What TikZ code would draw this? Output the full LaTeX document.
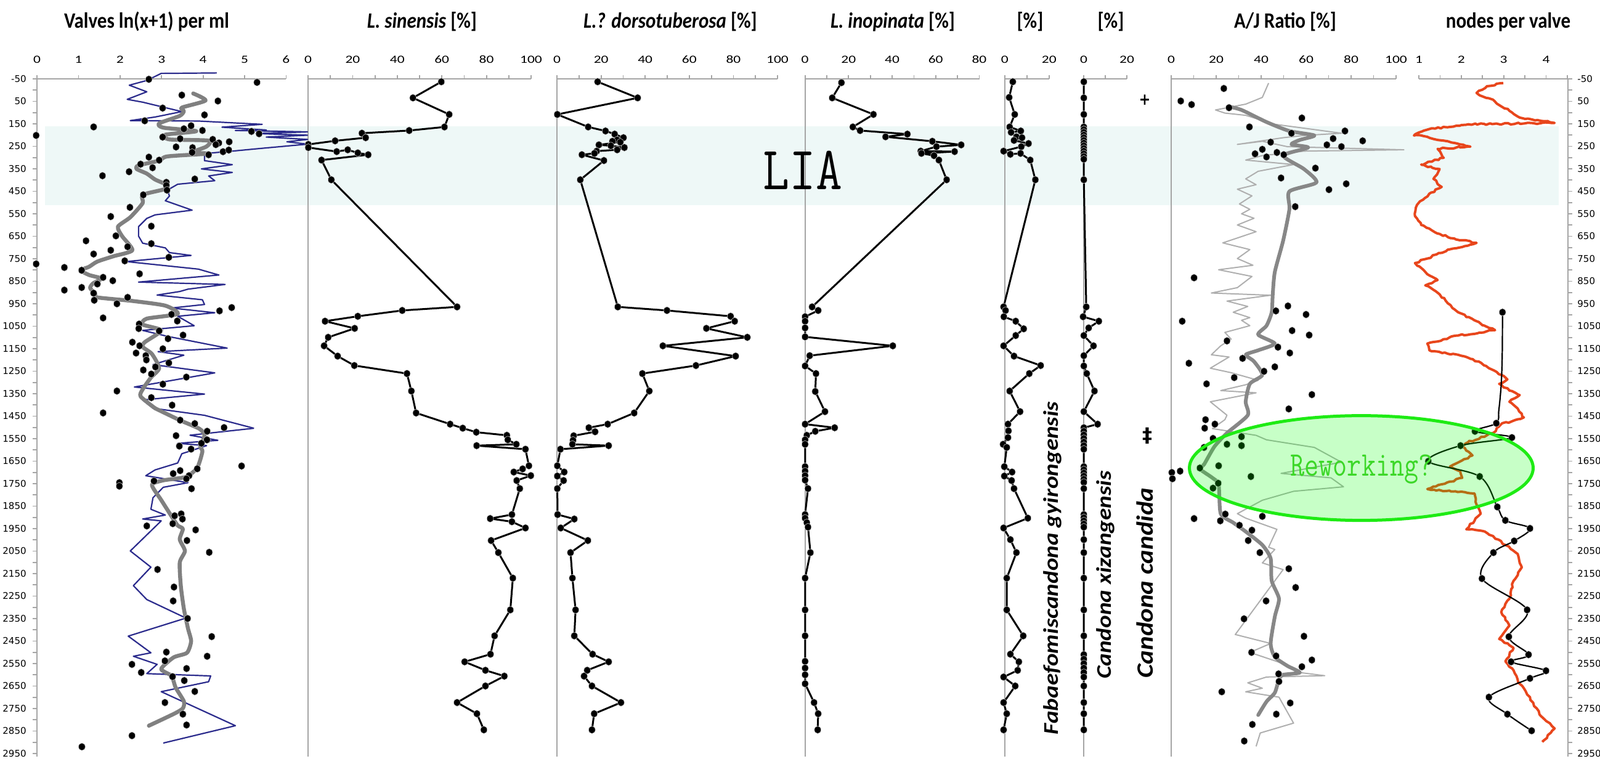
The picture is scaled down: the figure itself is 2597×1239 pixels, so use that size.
\documentclass[tikz,border=0pt]{standalone}
\usepackage{fontspec}
\setmainfont{Carlito}
\newfontfamily\depthfont{DejaVu Sans}
\newfontfamily\symf{DejaVu Sans}
\usepackage{graphicx}
\usetikzlibrary{decorations.pathmorphing}
\definecolor{bandc}{RGB}{238,248,247}
\definecolor{axisc}{RGB}{165,165,165}
\definecolor{bluec}{RGB}{43,43,140}
\definecolor{grayc}{RGB}{128,128,128}
\definecolor{thinc}{RGB}{175,175,175}
\definecolor{thickc}{RGB}{135,135,135}
\definecolor{orangec}{RGB}{232,70,28}
\definecolor{greenb}{RGB}{30,235,20}
\definecolor{greent}{RGB}{60,215,40}
\definecolor{dotrim}{RGB}{200,200,200}
\begin{document}
\begin{tikzpicture}[x=0.5pt,y=-0.5pt,
  axisline/.style={draw=axisc, line width=0.9pt},
  ticklab/.style={font=\fontsize{9}{10}\selectfont, xscale=1.3, anchor=base, inner sep=0pt},
  depthlab/.style={font=\depthfont\fontsize{7.5}{9}\selectfont, inner sep=0pt},
  titlelab/.style={font=\fontsize{15.5}{18}\selectfont\bfseries, yscale=1.15, anchor=base, inner sep=0pt},
  rotlab/.style={font=\fontsize{17}{20}\selectfont\bfseries\itshape, rotate=90, inner sep=0pt},
  dotmark/.style={mark=*, mark size=2.7pt, mark options={fill=black, draw=dotrim, line width=0.3pt, solid, yscale=1.12}},
  blkline/.style={draw=black, line width=1.5pt, line join=round},
  bluel/.style={draw=bluec, line width=1.1pt, line join=round},
  grayl/.style={draw=grayc, line width=3.2pt, line cap=round, line join=round},
  thinl/.style={draw=thinc, line width=1pt, line join=round},
  thickl/.style={draw=thickc, line width=3pt, line cap=round, line join=round},
  orangel/.style={draw=orangec, line width=2pt, line join=round},
  ]
\useasboundingbox (0,0) rectangle (2597,1239);
% LIA band
\fill[bandc] (72.7,205) rectangle (2530,332.5);

% top axes
\foreach \a/\b in {60/464.4, 500/862, 904/1262, 1306.6/1589.5, 1630.8/1702.8, 1759/1829, 1901/2266, 2303/2545}
  \draw[axisline] (\a,128) -- (\b,128);
\foreach \k in {0,...,6} \draw[axisline] ({60+67.4*\k},128) -- ++(0,-6);
\foreach \k in {0,...,10} \draw[axisline] ({500+36.2*\k},128) -- ++(0,-6);
\foreach \k in {0,...,10} \draw[axisline] ({904+35.8*\k},128) -- ++(0,-6);
\foreach \k in {0,...,8} \draw[axisline] ({1306.6+35.36*\k},128) -- ++(0,-6);
\foreach \k in {0,...,2} \draw[axisline] ({1630.8+36*\k},128) -- ++(0,-6);
\foreach \k in {0,...,2} \draw[axisline] ({1759+35*\k},128) -- ++(0,-6);
\foreach \k in {0,...,10} \draw[axisline] ({1901+36.5*\k},128) -- ++(0,-6);
\foreach \k in {0,...,7} \draw[axisline] ({2303+34.4*\k},128) -- ++(0,-6);
% vertical axes
\foreach \a in {60, 500, 904, 1306.6, 1630.8, 1759, 1901, 2545}
  \draw[axisline] (\a,128) -- (\a,1228);
\foreach \k in {0,...,60} {
  \draw[axisline] (53,{128+18.25*\k}) -- (60,{128+18.25*\k});
  \draw[axisline] (2545,{128+18.25*\k}) -- (2552,{128+18.25*\k});
}
% depth labels
\foreach \k in {0,...,30} {
  \pgfmathtruncatemacro\dd{100*\k-50}
  \node[depthlab, anchor=base east] (dl\k) at (43,{128+36.5*\k+5.3}) {\dd};
  \node[depthlab, anchor=base west] (dr\k) at (2560,{128+36.5*\k+5.3}) {\dd};
}
% tick labels
\foreach \v [count=\i from 0] in {0,...,6} \node[ticklab] (ta\i) at ({60+67.4*\i},102.7) {\v};
\foreach \v [count=\i from 0] in {0,20,...,100} \node[ticklab] (tb\i) at ({500+72.4*\i},102.7) {\v};
\foreach \v [count=\i from 0] in {0,20,...,100} \node[ticklab] (tc\i) at ({904+71.6*\i},102.7) {\v};
\foreach \v [count=\i from 0] in {0,20,...,80} \node[ticklab] (td\i) at ({1306.6+70.7*\i},102.7) {\v};
\node[ticklab] (te0) at (1630.8,102.7) {0};
\node[ticklab] (te1) at (1702.8,102.7) {20};
\node[ticklab] (tf0) at (1759,102.7) {0};
\node[ticklab] (tf1) at (1829,102.7) {20};
\foreach \v [count=\i from 0] in {0,20,...,100} \node[ticklab] (tg\i) at ({1901+73*\i},102.7) {\v};
\foreach \v [count=\i from 0] in {1,...,4} \node[ticklab] (th\i) at ({2303+68.8*\i},102.7) {\v};

% titles
\node[titlelab] (t1) at (238,45) {Valves ln(x+1) per ml};
\node[titlelab] (t2) at (685,45) {\textit{L. sinensis} [\%]};
\node[titlelab] (t3) at (1088,45) {\textit{L.? dorsotuberosa} [\%]};
\node[titlelab] (t4) at (1449,45) {\textit{L. inopinata} [\%]};
\node[titlelab] (t5) at (1672,45) {[\%]};
\node[titlelab] (t6) at (1803,45) {[\%]};
\node[titlelab] (t7) at (2086,45) {A/J Ratio [\%]};
\node[titlelab] (t8) at (2448,45) {nodes per valve};

% LIA
\node[font=\ttfamily\fontsize{41.6}{44}\selectfont, yscale=1.2, inner sep=0pt] (lia) at (1303,276) {LIA};

% ---------- panel 1 (upper) ----------
\begin{scope}[shift={(-2.54,100)}, x=0.16722pt, y=-0.19135pt]
\draw[bluel] plot coordinates {(1060,48) (790,50) (720,80) (635,100) (720,128) (625,160) (700,172) (890,212) (760,235) (640,250) (970,252) (1280,266) (1085,278) (1300,290) (1150,292) (1500,298) (1250,305) (1500,312) (1300,320) (1500,330) (1400,340) (1500,350) (1250,370) (1130,380) (1000,390) (1000,420) (1135,437) (985,455) (1135,470) (1020,485) (1050,505) (870,520) (820,545) (830,570) (810,590) (940,630) (760,650) (720,665) (680,700) (680,740) (700,770) (810,790) (830,810) (935,822) (620,848) (970,880) (1070,905) (680,935) (1100,945) (920,965) (880,975) (770,990) (990,1010) (1000,1030) (840,1045) (1050,1065) (870,1080) (950,1120) (700,1140) (820,1165) (1110,1215) (775,1230) (900,1245) (750,1285) (1050,1320) (660,1380) (1000,1410) (700,1435) (750,1470) (1000,1500) (1240,1555)};
\draw[grayl] plot[smooth, tension=0.4] coordinates {(945,135) (1005,165) (890,195) (900,210) (880,230) (780,262) (800,280) (960,295) (810,310) (830,330) (1020,335) (1010,360) (940,385) (1020,390) (820,402) (780,420) (680,440) (670,455) (720,475) (760,500) (810,520) (810,540) (700,565) (700,600) (640,660) (580,700) (600,740) (650,800) (560,825) (480,848) (440,870) (400,885) (440,905) (500,920) (460,940) (445,960) (470,985) (480,1000) (650,1015) (810,1035) (870,1070) (720,1090) (700,1115) (790,1140) (710,1190) (700,1210) (745,1240) (780,1300) (740,1340) (700,1390) (690,1420) (760,1470)};
\draw plot[only marks, dotmark] coordinates {(730,75) (1255,88) (890,142) (1065,167) (797,197) (1000,226) (710,251) (462,277) (183,313) (935,272) (900,285) (990,292) (1228,296) (1265,306) (797,320) (882,327) (1040,330) (1070,345) (1120,340) (1055,352) (862,362) (942,365) (940,385) (1090,382) (1118,375) (1020,395) (730,405) (780,418) (690,435) (748,450) (634,467) (505,484) (953,498) (815,512) (815,525) (818,545) (703,565) (638,618) (545,657) (742,698) (570,739) (425,760) (627,785) (742,772) (545,800) (462,816) (613,845) (183,858) (827,830) (320,873) (404,885) (685,900) (508,915) (555,929) (480,943) (404,958) (320,969) (462,982) (465,1012) (627,1000) (575,1027) (1132,1043) (1073,1057) (840,1072) (508,1087) (868,1100) (683,1113) (681,1132) (780,1142) (896,1160) (823,1175) (650,1190) (685,1205) (798,1218) (668,1236) (715,1247) (718,1265) (827,1278) (762,1295) (703,1308) (742,1325) (912,1338) (798,1368) (575,1397) (742,1425) (843,1457) (508,1490)};
\end{scope}
% ---------- panel 1 (lower) ----------
\begin{scope}[shift={(-2.54,650)}, x=0.16722pt, y=-0.18783pt]
\draw[bluel] plot coordinates {(1240,120) (930,150) (1065,172) (870,185) (1010,195) (890,230) (870,270) (760,300) (715,325) (920,355) (800,375) (750,420) (740,470) (810,495) (700,512) (790,520) (640,650) (740,720) (655,800) (720,860) (910,940) (630,1018) (740,1090) (655,1105) (770,1140) (720,1180) (1030,1190) (1020,1215) (790,1258) (1150,1405) (800,1480)};
\draw[grayl] plot[smooth, tension=0.4] coordinates {(760,33.5) (880,85) (975,122) (1000,150) (980,200) (990,220) (965,290) (910,330) (800,345) (745,365) (790,430) (840,500) (870,540) (895,555) (880,600) (905,650) (880,700) (885,800) (900,900) (920,985) (935,1040) (915,1090) (850,1110) (790,1160) (840,1190) (860,1240) (900,1300) (895,1330) (860,1350) (790,1380) (730,1405)};
\draw plot[only marks, dotmark] coordinates {(882,85) (953,100) (1095,117) (1013,133) (862,152) (1012,170) (985,185) (878,197) (935,210) (1180,283) (965,295) (882,303) (848,316) (925,325) (912,338) (755,348) (587,355) (587,370) (937,381) (887,490) (855,498) (893,512) (846,532) (720,542) (957,559) (915,605) (1023,656) (772,730) (852,806) (848,866) (918,942) (1035,1020) (815,1087) (1013,1105) (808,1125) (648,1140) (913,1158) (693,1175) (845,1193) (902,1210) (953,1257) (808,1305) (895,1355) (913,1402) (648,1448) (405,1496)};
\end{scope}

% ---------- panels 2 and 3 ----------
\begin{scope}[shift={(480,100)}, x=0.25575pt, y=-0.36321pt]
\draw[blkline] plot[dotmark] coordinates {(462,45) (372,81) (487,118) (472,146) (360,154) (210,160) (222,170) (125,177) (40,185) (40,192) (130,201) (165,197) (197,204) (230,208) (82,220) (113,264) (512,548) (338,556) (197,569) (93,580) (187,596) (103,616) (90,635) (133,658) (186,679) (353,697) (367,736) (382,785) (490,810) (530,819) (573,828) (670,835) (673,845) (700,855) (574,858) (729,866) (740,903) (720,910) (692,917) (746,925) (701,936) (711,954) (686,1012) (617,1021) (686,1028) (729,1042) (620,1070) (643,1097) (689,1154) (681,1225) (631,1283) (618,1324) (536,1341) (602,1360) (662,1373) (602,1395) (512,1432) (575,1457) (597,1493)};
\draw[blkline] plot[dotmark] coordinates {(958,45) (1085,81) (830,118) (928,146) (983,155) (1012,162) (1040,170) (1020,175) (1005,178) (1030,180) (962,186) (1000,188) (1043,192) (1020,197) (955,200) (948,205) (908,208) (978,221) (903,264) (1022,548) (1178,556) (1380,569) (1393,580) (1303,596) (1433,616) (1165,635) (1396,658) (1270,679) (1100,697) (1122,736) (1074,785) (990,810) (930,818) (950,827) (882,836) (880,846) (878,855) (993,858) (840,866) (830,903) (852,917) (830,926) (850,936) (830,954) (831,1012) (884,1022) (841,1042) (927,1070) (872,1097) (878,1154) (888,1225) (884,1283) (942,1324) (993,1341) (925,1360) (915,1373) (940,1395) (1032,1432) (947,1457) (940,1493)};
\end{scope}

% ---------- panels 4, 5, 6 ----------
\begin{scope}[shift={(1280,100)}, x=0.19670pt, y=-0.36321pt]
\draw[blkline] plot[dotmark] coordinates {(218,47) (180,81) (350,118) (265,146) (295,154) (490,162) (400,168) (593,178) (712,186) (610,190) (545,200) (685,201) (548,205) (600,210) (620,220) (652,264) (97,548) (122,556) (68,570) (68,580) (68,595) (68,615) (430,635) (87,657) (68,680) (113,697) (110,737) (150,782) (68,810) (190,818) (110,826) (75,835) (68,845) (68,855) (68,905) (68,915) (68,925) (68,935) (80,954) (68,1012) (68,1020) (75,1030) (80,1040) (90,1097) (68,1154) (68,1225) (68,1283) (68,1340) (68,1355) (68,1370) (68,1390) (105,1432) (122,1457) (120,1493)};
\draw[blkline] plot[dotmark] coordinates {(925,45) (910,80) (933,118) (912,146) (958,155) (918,158) (940,168) (963,170) (930,176) (990,183) (960,190) (887,200) (915,207) (957,205) (997,220) (1018,264) (887,548) (895,556) (888,570) (937,580) (970,597) (937,612) (887,635) (930,658) (1040,679) (993,697) (912,736) (955,782) (905,810) (907,825) (905,840) (885,855) (900,862) (890,905) (922,917) (890,926) (920,936) (930,954) (987,1020) (887,1042) (915,1068) (940,1097) (900,1154) (900,1225) (968,1283) (915,1324) (950,1341) (945,1360) (887,1375) (935,1395) (887,1432) (900,1457) (887,1493)};
\draw[blkline] plot[dotmark] coordinates {(1218,45) (1218,81) (1218,118) (1218,146) (1218,152) (1218,158) (1218,164) (1218,170) (1218,176) (1218,182) (1218,188) (1218,194) (1218,200) (1218,206) (1218,212) (1218,218) (1218,264) (1228,548) (1215,570) (1280,580) (1238,595) (1218,612) (1258,635) (1218,657) (1218,680) (1230,697) (1262,736) (1218,782) (1275,810) (1218,818) (1218,826) (1218,834) (1218,842) (1218,850) (1218,858) (1218,866) (1218,905) (1218,912) (1218,919) (1218,926) (1218,933) (1218,940) (1218,954) (1218,1012) (1218,1019) (1218,1026) (1218,1033) (1218,1040) (1218,1068) (1218,1097) (1218,1154) (1218,1225) (1218,1283) (1218,1325) (1218,1335) (1218,1345) (1218,1355) (1218,1365) (1218,1375) (1218,1395) (1218,1432) (1218,1457) (1218,1493)};
\end{scope}

% ---------- panel 7 ----------
\begin{scope}[shift={(1880,100)}, x=0.16892pt, y=-0.36321pt]
\draw[thinl] plot coordinates {(530,48) (500,80) (420,95) (275,108) (320,115) (420,120) (560,140) (720,150) (880,160) (700,165) (600,170) (380,185) (500,178) (620,190) (1180,197) (700,200) (500,210) (420,220) (650,230) (480,245) (420,262) (470,275) (380,285) (450,300) (390,318) (440,330) (400,340) (460,350) (380,365) (470,380) (310,405) (440,420) (380,440) (455,455) (290,465) (450,480) (380,505) (255,517) (540,522) (330,535) (430,547) (360,560) (440,572) (400,578) (440,590) (320,605) (350,620) (300,635) (255,655) (340,660) (250,685) (350,695) (480,712) (420,722) (300,735) (470,740) (250,760) (330,790) (320,800) (260,820) (470,835) (520,845) (750,862) (880,895) (590,920) (830,930) (890,950) (650,960) (500,980) (380,1010) (420,1020) (570,1045) (530,1085) (560,1090) (500,1120) (600,1135) (560,1160) (370,1280) (540,1300) (440,1320) (600,1345) (680,1365) (800,1372) (520,1375) (430,1388) (500,1400) (420,1408) (580,1420) (650,1478) (490,1500) (470,1530)};
\draw[thickl] plot[smooth, tension=0.4] coordinates {(335,100) (400,108) (520,135) (630,155) (750,165) (680,175) (640,185) (720,192) (600,210) (700,240) (760,270) (630,290) (630,330) (600,400) (560,470) (550,520) (545,560) (520,590) (480,610) (560,630) (480,645) (420,655) (460,670) (500,700) (440,720) (420,760) (430,790) (330,830) (270,860) (220,900) (200,910) (260,930) (290,945) (300,1010) (360,1030) (420,1050) (500,1080) (540,1110) (545,1160) (580,1200) (560,1240) (540,1300) (560,1330) (620,1350) (680,1365) (600,1370) (580,1380) (560,1410) (520,1430) (480,1460)};
\draw plot[only marks, dotmark] coordinates {(315,60) (108,88) (160,96) (340,103) (690,126) (438,146) (640,160) (897,155) (840,172) (982,177) (810,186) (880,190) (500,196) (540,180) (465,206) (520,213) (570,203) (603,208) (755,238) (590,260) (903,273) (820,286) (658,324) (172,483) (565,557) (623,546) (710,565) (115,580) (643,601) (725,611) (330,624) (575,638) (632,651) (147,674) (405,663) (560,682) (508,692) (365,706) (232,720) (738,744) (627,776) (227,800) (272,810) (223,819) (263,842) (220,862) (330,855) (400,838) (400,858) (200,908) (290,903) (445,927) (105,915) (65,918) (68,932) (263,953) (288,942) (172,1021) (322,1011) (298,1026) (500,1016) (390,1036) (450,1047) (432,1070) (488,1097) (627,1133) (660,1175) (518,1205) (412,1245) (700,1284) (448,1320) (566,1328) (738,1337) (690,1352) (578,1368) (580,1385) (305,1408) (634,1433) (567,1458) (452,1481) (413,1518)};
\end{scope}

% ---------- panel 8 ----------
\begin{scope}[shift={(2250,100)}, x=0.16667pt, y=-0.36321pt]
\draw[orangel, decorate, decoration={random steps, segment length=2.5pt, amplitude=0.7pt}] plot coordinates {(570,48) (490,55) (440,70) (470,78) (520,85) (560,100) (600,110) (650,125) (820,137) (400,140) (200,152) (135,165) (200,168) (250,175) (300,178) (410,190) (250,195) (280,215) (170,230) (260,240) (230,262) (270,280) (210,295) (150,320) (140,345) (170,365) (260,385) (330,395) (440,405) (300,420) (200,440) (140,450) (200,475) (250,488) (190,500) (260,520) (300,540) (350,560) (440,580) (500,595) (530,600) (350,612) (200,630) (210,645) (350,655) (450,670) (500,685) (560,700) (590,710) (550,720) (600,735) (650,745) (600,760) (640,775) (670,795) (560,810) (520,830) (400,850) (370,860) (420,880) (310,905) (360,915) (370,930) (200,955) (430,965) (440,990) (460,1010) (390,1045) (480,1050) (520,1060) (580,1080) (640,1100) (660,1130) (620,1160) (600,1200) (560,1230) (600,1260) (550,1290) (620,1310) (580,1340) (620,1360) (650,1390) (700,1420) (720,1440) (760,1465) (820,1490) (760,1520)};
\draw[draw=black, line width=1.1pt] plot[smooth, tension=0.55] coordinates {(566,560) (565,650) (560,720) (548,780) (536,808) (432,826) (612,840) (362,858) (205,893) (455,927) (541,995) (580,1025) (700,1043) (623,1071) (522,1097) (466,1155) (686,1225) (597,1285) (693,1325) (608,1341) (778,1361) (700,1378) (500,1420) (590,1458) (708,1495)};
\draw plot[only marks, dotmark] coordinates {(566,560) (536,808) (432,826) (612,840) (362,858) (205,893) (455,927) (541,995) (580,1025) (700,1043) (623,1071) (522,1097) (466,1155) (686,1225) (597,1285) (693,1325) (608,1341) (778,1361) (700,1378) (500,1420) (590,1458) (708,1495)};
\end{scope}

% reworking ellipse
\draw[draw=greenb, line width=2.5pt, fill=green, fill opacity=0.22] (2209.5,759.6) ellipse [x radius=139.5pt, y radius=42.5pt];
\node[font=\ttfamily\fontsize{22.4}{25}\selectfont, yscale=1.25, text=greent, inner sep=0pt] (rw) at (2210,762) {Reworking?};

% marks and rotated labels
\node[font=\symf\bfseries\fontsize{11}{12}\selectfont, yscale=1.2, inner sep=0pt] (plus) at (1858,162) {+};
\node[font=\symf\bfseries\fontsize{16}{18}\selectfont, inner sep=0pt] (ddag) at (1862.7,707) {‡};
\node[rotlab] (fab) at (1708,922) {\scalebox{1.15}[1]{Fabaefomiscandona gyirongensis}};
\node[rotlab] (xiz) at (1794,933) {\scalebox{1.15}[1]{Candona xizangensis}};
\node[rotlab, font=\fontsize{19}{22}\selectfont\bfseries\itshape] (cand) at (1858,946) {\scalebox{1.13}[1]{Candona candida}};
\end{tikzpicture}
\end{document}
